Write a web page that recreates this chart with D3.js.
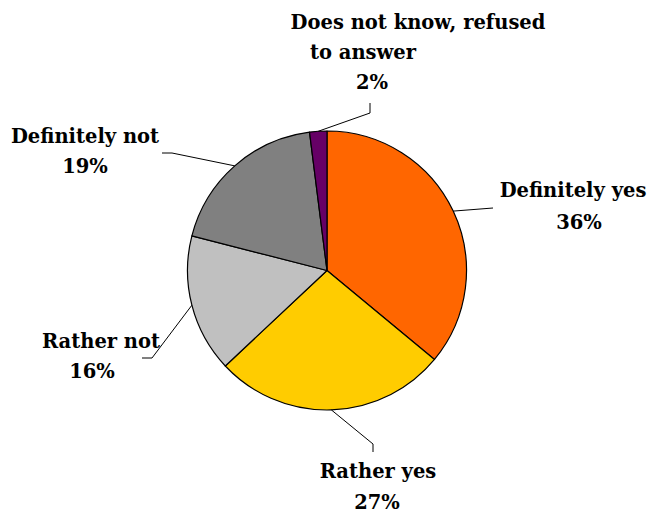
<!DOCTYPE html>
<html>
<head>
<meta charset="utf-8">
<script src="https://cdn.jsdelivr.net/npm/d3@7"></script>
<style>
  html, body { margin: 0; padding: 0; background: #fff; }
  svg { display: block; }
  text { font-family: "DejaVu Serif", Georgia, serif; font-weight: bold; fill: #000; }
</style>
</head>
<body>
<svg id="chart" width="649" height="516"></svg>
<script>
// Survey answers, clockwise from 12 o'clock
const categories = ["Definitely yes", "Rather yes", "Rather not", "Definitely not", "Does not know, refused to answer"];
const values = [36, 27, 16, 19, 2];
const valueLabels = ["36%", "27%", "16%", "19%", "2%"];

// Slice fills
const colors = ["#FF6600", "#FFCC00", "#C0C0C0", "#808080", "#660066"];

// Label placement: text lines (x center, baseline y) and leader-line elbows
const labelLayout = [
  { lines: [[573, 197]], pct: [579, 229], elbows: [[493, 208]] },
  { lines: [[378, 478]], pct: [377, 509], elbows: [[373, 444], [373, 452]] },
  { lines: [[101, 348]], pct: [92, 378], elbows: [[152, 358], [142, 358]] },
  { lines: [[85, 143]], pct: [85, 173], elbows: [[172, 153], [162, 153]] },
  { lines: [[418, 29], [363, 59]], split: ["Does not know, refused", "to answer"], pct: [372, 89], elbows: [[370, 113], [370, 103]] }
];

const fontSize = 19.5;
const cx = 327, cy = 270.5, r = 139.5;
const svg = d3.select("#chart");

const pie = d3.pie().sort(null).value(d => d);
const arcs = pie(values);
const arc = d3.arc().innerRadius(0).outerRadius(r);
const edge = d3.arc().innerRadius(r).outerRadius(r);

const g = svg.append("g").attr("transform", `translate(${cx},${cy})`);

g.selectAll("path.slice")
  .data(arcs)
  .join("path")
  .attr("class", "slice")
  .attr("d", arc)
  .attr("fill", (d, i) => colors[i])
  .attr("stroke", "#000")
  .attr("stroke-width", 1.2)
  .attr("stroke-linejoin", "round");

// Leader lines from slice edge to labels
const line = d3.line();
arcs.forEach((d, i) => {
  const c = edge.centroid(d);
  const pts = [[cx + c[0], cy + c[1]], ...labelLayout[i].elbows];
  svg.append("path")
    .attr("d", line(pts))
    .attr("fill", "none")
    .attr("stroke", "#000")
    .attr("stroke-width", 1);
});

// Category and percentage labels
categories.forEach((name, i) => {
  const L = labelLayout[i];
  const parts = L.split || [name];
  parts.forEach((t, j) => {
    svg.append("text")
      .attr("x", L.lines[j][0])
      .attr("y", L.lines[j][1])
      .attr("text-anchor", "middle")
      .attr("font-size", fontSize)
      .text(t);
  });
  svg.append("text")
    .attr("x", L.pct[0])
    .attr("y", L.pct[1])
    .attr("text-anchor", "middle")
    .attr("font-size", fontSize)
    .text(valueLabels[i]);
});
</script>
</body>
</html>
